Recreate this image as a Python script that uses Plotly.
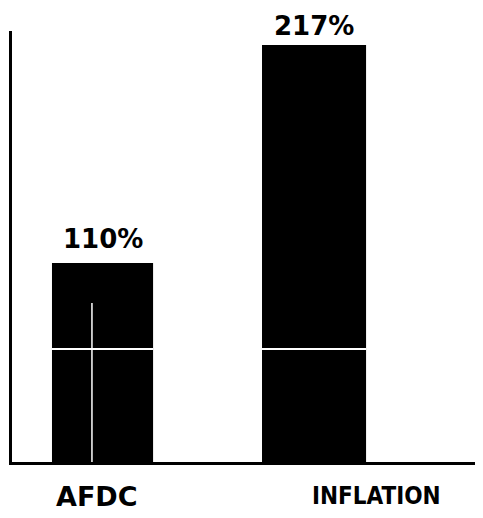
import plotly.graph_objects as go

categories = ["AFDC", "INFLATION"]
values = [110, 217]
value_labels = ["110%", "217%"]
value_label_gaps = [8, 3]         # px between bar top and its value label
bar_widths = [0.478, 0.492]
label_shifts = [-6, 62]          # horizontal offset of category labels (px)
label_fonts = ["DejaVu Sans", "DejaVu Sans Condensed, DejaVu Sans"]
label_sizes = [27, 24]
label_drops = [-17, -18]
divider_level = 67.8              # faint white line across the bars
afdc_split = dict(x=-0.05, top=90.4)  # faint vertical white line in the AFDC bar

fig = go.Figure()
fig.add_trace(go.Bar(
    x=categories, y=values, width=bar_widths,
    marker=dict(color="black", line=dict(width=0)),
    showlegend=False, hoverinfo="skip",
))

for c, v, t, g in zip(categories, values, value_labels, value_label_gaps):
    fig.add_annotation(x=c, y=v, text=t, showarrow=False, xref="x", yref="y",
                       yanchor="bottom", yshift=g, borderpad=0,
                       font=dict(family="DejaVu Sans", size=26, color="black", weight="bold"))

for c, s, f, z, d in zip(categories, label_shifts, label_fonts, label_sizes, label_drops):
    fig.add_annotation(x=c, y=0, xref="x", yref="paper", text=c, showarrow=False,
                       yanchor="top", yshift=d, xshift=s,
                       font=dict(family=f, size=z, color="black", weight="bold"))

# white divider line across both bars
for idx, w in enumerate(bar_widths):
    fig.add_shape(type="line", xref="x", yref="y",
                  x0=idx - w / 2, x1=idx + w / 2, y0=divider_level, y1=divider_level,
                  line=dict(color="white", width=2))
fig.add_shape(type="line", xref="x", yref="y",
              x0=afdc_split["x"], x1=afdc_split["x"], y0=0, y1=afdc_split["top"],
              line=dict(color="white", width=1.5))

fig.update_layout(
    width=467, height=510,
    margin=dict(l=4, r=0, t=23, b=56),
    paper_bgcolor="white", plot_bgcolor="white",
    xaxis=dict(range=[-0.428, 1.761], showticklabels=False, showgrid=False,
               zeroline=False, showline=True, linecolor="black", linewidth=2.5,
               ticks=""),
    yaxis=dict(range=[12.3, 223.9], showticklabels=False, showgrid=False,
               zeroline=False, showline=True, linecolor="black", linewidth=2.5,
               ticks=""),
)

fig.write_html("out.html")
